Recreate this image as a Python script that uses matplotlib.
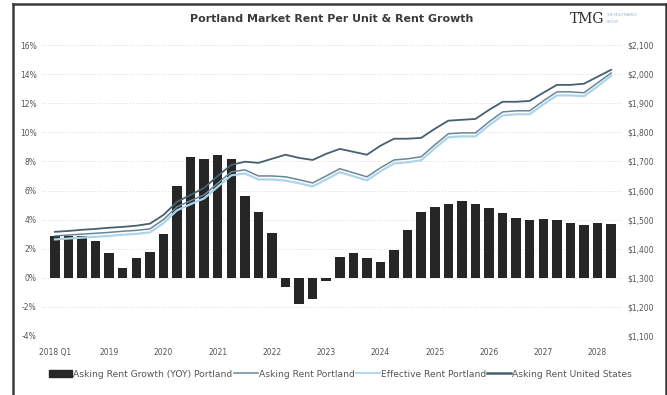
import matplotlib
matplotlib.use("Agg")
import matplotlib.pyplot as plt
from matplotlib.lines import Line2D
import numpy as np

# ---------------- data ----------------
quarters = [f"{y} Q{q}" for y in range(2018, 2029) for q in range(1, 5)][:42]
tick_labels = ["2018 Q1", "2019", "2020", "2021", "2022", "2023",
               "2024", "2025", "2026", "2027", "2028"]

rent_growth = [2.9, 2.85, 2.85, 2.5, 1.7, 0.67, 1.35, 1.75, 3.0, 6.3,
               8.3, 8.15, 8.45, 8.15, 5.6, 4.55, 3.05, -0.6, -1.8, -1.45,
               -0.2, 1.4, 1.7, 1.35, 1.1, 1.9, 3.3, 4.5, 4.85, 5.1,
               5.25, 5.1, 4.8, 4.45, 4.1, 4.0, 4.05, 3.95, 3.8, 3.6,
               3.8, 3.7]

asking_us = [1458, 1461, 1465, 1468, 1472, 1475, 1479, 1486, 1516, 1561,
             1585, 1609, 1650, 1688, 1699, 1695, 1709, 1723, 1712, 1705,
             1726, 1743, 1733, 1723, 1754, 1778, 1778, 1781, 1812, 1840,
             1843, 1846, 1877, 1905, 1905, 1908, 1936, 1963, 1963, 1967,
             1991, 2015]

asking_pdx = [1444, 1447, 1450, 1453, 1456, 1460, 1463, 1468, 1500, 1544,
              1565, 1585, 1625, 1664, 1671, 1650, 1650, 1647, 1637, 1626,
              1650, 1675, 1661, 1647, 1678, 1705, 1709, 1716, 1757, 1795,
              1798, 1798, 1836, 1870, 1874, 1874, 1908, 1939, 1939, 1936,
              1970, 2004]

effective_pdx = [1432, 1435, 1438, 1441, 1444, 1448, 1451, 1456, 1488, 1532,
                 1553, 1573, 1613, 1652, 1659, 1638, 1638, 1634, 1625, 1614,
                 1638, 1663, 1649, 1635, 1666, 1693, 1697, 1704, 1745, 1783,
                 1786, 1786, 1824, 1858, 1862, 1862, 1896, 1927, 1927, 1924,
                 1958, 1994]

pct_ticks = [-4, -2, 0, 2, 4, 6, 8, 10, 12, 14, 16]
usd_ticks = [1100, 1200, 1300, 1400, 1500, 1600, 1700, 1800, 1900, 2000, 2100]

title = "Portland Market Rent Per Unit & Rent Growth"
legend_labels = ["Asking Rent Growth (YOY) Portland", "Asking Rent Portland",
                 "Effective Rent Portland", "Asking Rent United States"]

# ---------------- styling ----------------
bar_color = "#262626"
us_color = "#46606f"
pdx_color = "#6a8696"
eff_color = "#acd5ec"
text_color = "#555555"

fig = plt.figure(figsize=(6.67, 3.95), dpi=100)
fig.patch.set_facecolor("white")

ax = fig.add_axes([0.063, 0.1494, 0.8695, 0.7366])
x = np.arange(len(quarters))

ax.bar(x, rent_growth, width=0.7, color=bar_color, zorder=2,
       label=legend_labels[0])
ax.set_ylim(-4, 16)
ax.set_xlim(-0.95, 41.8)
ax.set_yticks(pct_ticks)
ax.set_yticklabels([f"{v}%" for v in pct_ticks])
ax.set_xticks(np.arange(0, 41, 4))
ax.set_xticklabels(tick_labels)
ax.tick_params(axis="both", length=0, labelsize=5.5, colors=text_color)
ax.tick_params(axis="y", pad=4)
ax.tick_params(axis="x", pad=9)
for s in ax.spines.values():
    s.set_visible(False)
ax.grid(axis="y", color="#d9d9d9", linestyle=(0, (1, 2)), linewidth=0.7, zorder=0)

ax2 = ax.twinx()
ax2.set_ylim(1100, 2100)
ax2.plot(x, effective_pdx, color=eff_color, lw=1.6, zorder=3,
         label=legend_labels[2])
ax2.plot(x, asking_pdx, color=pdx_color, lw=1.1, zorder=4,
         label=legend_labels[1])
ax2.plot(x, asking_us, color=us_color, lw=1.3, zorder=5,
         label=legend_labels[3])
ax2.set_yticks(usd_ticks)
ax2.set_yticklabels([f"${v:,}" for v in usd_ticks])
ax2.tick_params(axis="y", length=0, labelsize=5.5, colors=text_color, pad=4)
for s in ax2.spines.values():
    s.set_visible(False)

# legend
handles = [
    plt.Rectangle((0, 0), 1, 1, color=bar_color),
    Line2D([0], [0], color=pdx_color, lw=1.1),
    Line2D([0], [0], color=eff_color, lw=1.3),
    Line2D([0], [0], color=us_color, lw=1.8),
]
fig.legend(handles, legend_labels, loc="center", bbox_to_anchor=(0.51, 0.053),
           ncol=4, frameon=False, fontsize=6.6, handlelength=2.6,
           handletextpad=0.1, columnspacing=0.15, labelcolor=text_color)

# title and logo
fig.text(0.498, 0.953, title, ha="center", va="center", fontsize=7.9,
         fontweight="bold", color="#3a3a3a")
fig.text(0.855, 0.953, "TMG", ha="left", va="center", fontsize=10,
         family="DejaVu Serif", color="#2b2b2b")
fig.text(0.908, 0.962, "THE MULTIFAMILY", ha="left", va="center", fontsize=2.6,
         color="#8fb6d6")
fig.text(0.908, 0.944, "GROUP", ha="left", va="center", fontsize=2.6,
         color="#8fb6d6")

# outer frame
frame_kw = dict(color="#3a3a3a", lw=1.8, transform=fig.transFigure)
fig.add_artist(Line2D([0.0195, 0.0195], [0.0, 0.99], **frame_kw))
fig.add_artist(Line2D([0.0195, 0.998], [0.99, 0.99], **frame_kw))
fig.add_artist(Line2D([0.998, 0.998], [0.0, 0.99], **frame_kw))

fig.savefig("out.png", dpi=100, facecolor="white")
